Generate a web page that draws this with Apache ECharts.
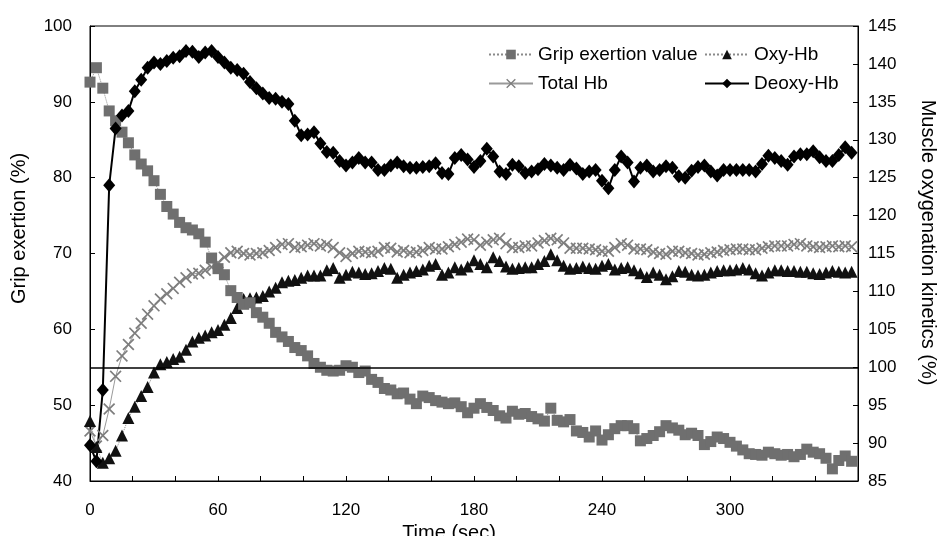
<!DOCTYPE html>
<html>
<head>
<meta charset="utf-8">
<title>Grip exertion and muscle oxygenation</title>
<script src="https://cdn.jsdelivr.net/npm/echarts@6/dist/echarts.min.js"></script>
<style>
html,body{margin:0;padding:0;background:#fff;}
#myChart{width:941px;height:536px;}
</style>
</head>
<body>
<div id="myChart"></div>
<script>
/*时间 (sec)*/
var times = [0,3,6,9,12,15,18,21,24,27,30,33,36,39,42,45,48,51,54,57,
  60,63,66,69,72,75,78,81,84,87,90,93,96,99,102,105,108,111,114,117,
  120,123,126,129,132,135,138,141,144,147,150,153,156,159,162,165,168,171,174,177,
  180,183,186,189,192,195,198,201,204,207,210,213,216,219,222,225,228,231,234,237,
  240,243,246,249,252,255,258,261,264,267,270,273,276,279,282,285,288,291,294,297,
  300,303,306,309,312,315,318,321,324,327,330,333,336,339,342,345,348,351,354,357];

/*Grip exertion (%) - left axis*/
var grip = [92.6,94.5,91.8,88.8,87.5,86.0,84.6,83.0,81.8,80.9,79.6,77.8,76.2,75.2,74.1,73.4,73.1,72.6,71.5,69.4,
  68.0,67.2,65.1,64.2,63.3,63.5,62.2,61.6,60.8,59.6,59.0,58.4,57.6,57.2,56.5,55.5,55.0,54.6,54.5,54.6,
  55.2,55.0,54.3,54.5,53.4,53.0,52.2,52.0,51.5,51.6,50.8,50.2,51.2,51.0,50.6,50.4,50.2,50.3,49.8,49.0,
  49.6,50.2,49.7,49.3,48.6,48.3,49.2,48.8,48.9,48.5,48.2,47.9,49.6,48.0,47.8,48.1,46.6,46.4,45.8,46.6,
  45.4,46.1,46.9,47.3,47.3,46.9,45.3,45.6,46.0,46.5,47.3,47.0,46.7,46.1,46.3,46.0,44.8,45.2,45.8,45.6,
  45.1,44.6,44.1,43.6,43.5,43.4,43.8,43.6,43.4,43.5,43.2,43.5,44.2,43.8,43.6,43.0,41.6,42.7,43.3,42.6];

/*Oxy-Hb (%) - right axis*/
var oxyHb = [92.9,89.5,87.4,88.0,89.0,91.0,93.3,94.8,96.2,97.4,99.3,100.4,100.7,101.1,101.4,102.3,103.4,103.9,104.2,104.6,
  104.9,105.6,106.5,107.8,109.0,109.1,109.2,109.4,110.0,110.5,111.2,111.4,111.5,111.8,112.1,112.1,112.1,112.8,113.1,111.8,
  112.2,112.6,112.5,112.3,112.4,112.7,113.1,113.0,111.8,112.2,112.5,112.7,112.9,113.4,113.6,112.2,112.5,113.2,112.9,113.3,
  114.1,113.6,113.2,114.5,114.0,113.3,113.0,113.1,113.2,113.2,113.6,114.0,114.9,114.1,113.4,113.0,113.1,113.3,113.1,113.0,
  113.4,113.6,112.9,113.1,113.2,112.8,112.4,111.9,112.5,112.2,111.6,112.0,112.7,112.6,112.2,112.1,112.2,112.5,112.7,112.8,
  112.8,112.9,113.1,112.9,112.4,112.1,112.5,112.8,112.8,112.7,112.7,112.6,112.6,112.4,112.3,112.5,112.7,112.6,112.5,112.6];

/*Total Hb (%) - right axis*/
var totalHb = [91.6,89.6,91.0,94.5,98.8,101.5,103.0,104.5,105.8,107.0,108.1,109.0,109.7,110.4,111.2,111.8,112.3,112.4,112.8,113.2,
  113.8,114.5,115.1,115.3,115.0,114.8,115.0,115.1,115.4,115.8,116.2,116.3,115.8,115.9,116.1,116.3,116.0,116.2,115.8,115.1,
  114.6,115.0,115.3,115.2,115.1,115.3,115.8,115.7,115.2,115.4,115.1,115.2,115.4,115.8,115.6,115.6,115.9,116.2,116.5,116.9,
  116.8,116.1,116.5,116.8,117.0,116.3,115.8,115.8,116.0,116.0,116.4,116.7,117.0,116.8,116.4,115.7,115.7,115.7,115.6,115.5,
  115.3,115.3,115.8,116.3,116.1,115.6,115.6,115.5,115.2,115.0,114.9,115.3,115.3,115.1,115.0,114.8,114.9,115.1,115.2,115.4,
  115.5,115.6,115.6,115.5,115.5,115.7,115.9,116.0,116.0,116.0,116.2,116.3,116.0,115.9,115.8,115.9,116.0,115.9,116.0,115.9];

/*Deoxy-Hb (%) - right axis*/
var deoxyHb = [89.7,87.6,97.0,124.0,131.5,133.2,133.8,136.4,137.9,139.5,140.2,140.0,140.4,140.8,141.0,141.7,141.6,140.9,141.5,141.7,
  140.9,140.2,139.5,139.2,138.7,137.6,136.8,136.1,135.5,135.4,135.0,134.7,132.5,130.6,130.7,131.0,129.5,128.4,128.3,127.2,
  126.6,127.0,127.6,127.0,127.0,126.0,126.0,126.6,127.0,126.5,126.3,126.3,126.4,126.5,126.9,125.6,125.5,127.6,128.0,127.4,
  126.4,127.2,128.8,127.8,125.8,125.5,126.7,126.5,125.6,125.8,126.1,126.8,126.6,126.3,126.0,126.7,126.2,125.5,125.8,126.0,
  124.6,123.6,126.0,127.8,127.0,124.5,126.3,126.6,125.8,126.0,126.5,126.3,125.2,125.0,125.9,126.4,126.6,125.8,125.3,126.0,
  126.0,126.0,126.0,126.0,125.8,126.8,127.9,127.6,127.2,126.7,127.8,128.1,128.1,128.5,127.7,127.2,127.2,128.0,129.0,128.3];

/*基准线*/
var baseLine = 100;

var xTicks = [0,60,120,180,240,300];

function pairs(arr){
    return times.map(function(t,i){ return [t, arr[i]]; });
}

var font = "'Liberation Sans', Arial, sans-serif";
var crossIcon = 'path://M0,1L1,0L5,4L9,0L10,1L6,5L10,9L9,10L5,6L1,10L0,9L4,5Z';

var myChart = echarts.init(document.getElementById('myChart'));

myChart.setOption({
    animation: false,
    backgroundColor: '#fff',
    textStyle: {fontFamily: font, color: '#000'},
    grid: {left: 90, right: 83, top: 26, bottom: 55, show: true, borderColor: '#000', borderWidth: 1,
        outerBoundsMode: 'none', containLabel: false},
    legend: [{
        data: ['Grip exertion value', 'Total Hb'],
        orient: 'vertical', left: 483, top: 40,
        itemWidth: 44, itemHeight: 12, itemGap: 10,
        textStyle: {fontSize: 19, color: '#000', fontFamily: font}
    }, {
        data: ['Oxy-Hb', 'Deoxy-Hb'],
        orient: 'vertical', left: 699, top: 40,
        itemWidth: 44, itemHeight: 12, itemGap: 10,
        textStyle: {fontSize: 19, color: '#000', fontFamily: font}
    }],
    xAxis: {
        type: 'value', min: 0, max: 360, interval: 20,
        name: 'Time (sec)', nameLocation: 'middle', nameGap: 37,
        nameTextStyle: {fontSize: 20, color: '#000', padding: [0, 50, 0, 0]},
        axisLine: {lineStyle: {color: '#000', width: 1}},
        axisTick: {inside: true, length: 5, lineStyle: {color: '#000'}},
        axisLabel: {
            fontSize: 17, color: '#000', margin: 21,
            formatter: function(v){ return xTicks.indexOf(v) >= 0 ? String(v) : ''; }
        },
        splitLine: {show: false}
    },
    yAxis: [{
        type: 'value', min: 40, max: 100, interval: 10,
        name: 'Grip exertion (%)', nameLocation: 'middle', nameGap: 61,
        nameTextStyle: {fontSize: 20, color: '#000', padding: [0, 0, 0, 50]},
        axisLine: {show: true, lineStyle: {color: '#000'}},
        axisTick: {inside: true, length: 5, lineStyle: {color: '#000'}},
        axisLabel: {fontSize: 17, color: '#000', margin: 18},
        splitLine: {show: false}
    }, {
        type: 'value', min: 85, max: 145, interval: 5, position: 'right',
        name: 'Muscle oxygenation kinetics (%)', nameLocation: 'middle', nameGap: 60,
        nameRotate: -90,
        nameTextStyle: {fontSize: 20, color: '#000', padding: [0, 22, 0, 0]},
        axisLine: {show: true, lineStyle: {color: '#000'}},
        axisTick: {inside: true, length: 5, lineStyle: {color: '#000'}},
        axisLabel: {fontSize: 17, color: '#000', margin: 10},
        splitLine: {show: false}
    }],
    series: [{
        name: 'Total Hb', type: 'line', yAxisIndex: 1,
        data: pairs(totalHb),
        symbol: crossIcon, symbolSize: 12,
        itemStyle: {color: '#7e7e7e'},
        lineStyle: {color: '#9a9a9a', width: 1}
    }, {
        name: 'Oxy-Hb', type: 'line', yAxisIndex: 1,
        data: pairs(oxyHb),
        symbol: 'triangle', symbolSize: 12,
        itemStyle: {color: '#111'},
        lineStyle: {color: '#8a8a8a', width: 1, type: 'dotted'}
    }, {
        name: 'Grip exertion value', type: 'line', yAxisIndex: 0,
        data: pairs(grip),
        symbol: 'rect', symbolSize: 11,
        itemStyle: {color: '#6f6f6f'},
        lineStyle: {color: '#8a8a8a', width: 1, type: 'dotted'}
    }, {
        name: 'Deoxy-Hb', type: 'line', yAxisIndex: 1,
        data: pairs(deoxyHb),
        symbol: 'diamond', symbolSize: [12, 14],
        itemStyle: {color: '#000'},
        lineStyle: {color: '#000', width: 2},
        markLine: {
            silent: true, symbol: 'none',
            label: {show: false},
            lineStyle: {color: '#000', width: 1.5, type: 'solid'},
            data: [{yAxis: baseLine}]
        }
    }]
});
</script>
</body>
</html>
